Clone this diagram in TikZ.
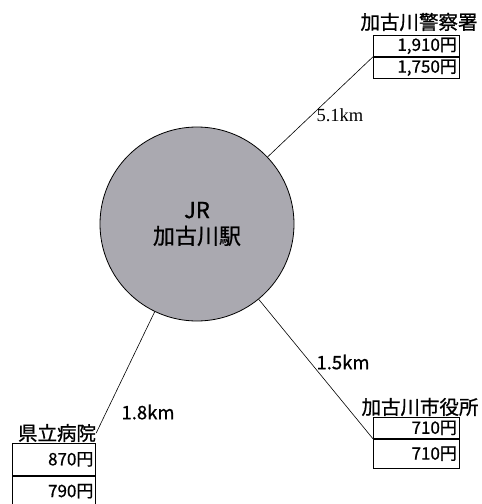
\documentclass[tikz,border=0pt]{standalone}
\usepackage{fontspec}
\setmainfont{Noto Sans CJK JP}
\newfontfamily\kmfont{Liberation Serif}
\newfontfamily\heavyfont{Noto Sans CJK JP}[FakeBold=0.8]
\usetikzlibrary{positioning}
\definecolor{stationgray}{RGB}{170,169,176}

\begin{document}
\begin{tikzpicture}[
    x=1pt, y=-1pt,
    station/.style={circle, draw, thick, fill=stationgray, minimum size=194pt, inner sep=0pt, align=center, font=\heavyfont\fontsize{22}{26}\selectfont},
    place/.style={inner sep=0pt, font=\heavyfont\fontsize{19.5}{20}\selectfont},
    price/.style={rectangle, draw, thick, minimum width=86pt, minimum height=21pt, inner sep=0pt, text width=81pt, align=right, font=\heavyfont\fontsize{17}{18}\selectfont},
    dist/.style={inner sep=0pt, font=\heavyfont\fontsize{18.5}{18}\selectfont},
    link/.style={semithick}
]
    \useasboundingbox (0,0) rectangle (482,504);

    \node[station] (jr) at (197,224) {JR\\加古川駅};

    \node[place] (police) at (419,22) {加古川警察署};
    \node[price, anchor=north west] (police1) at (373,35) {1,910円};
    \node[price, below=0pt of police1] (police2) {1,750円};

    \node[place] (cityhall) at (420,407) {加古川市役所};
    \node[price, anchor=north west] (city1) at (373,417) {710円};
    \node[price, minimum height=29pt, below=0pt of city1] (city2) {710円};

    \node[place] (hospital) at (57,433) {県立病院};
    \node[price, minimum width=83pt, minimum height=32pt, text width=79pt, anchor=north west] (hosp1) at (12,443) {870円};
    \node[price, minimum width=83pt, minimum height=30pt, text width=79pt, below=0pt of hosp1] (hosp2) {790円};

    \node[dist, font=\kmfont\fontsize{18.5}{18}\selectfont] (d51) at (340,115) {5.1km};
    \node[dist] (d15) at (343,362) {1.5km};
    \node[dist] (d18) at (148,412) {1.8km};

    \draw[link] (jr) -- (police1.south west);
    \draw[link] (jr) -- (city1.south west);
    \draw[link] (jr) -- (hospital.east);
\end{tikzpicture}
\end{document}
